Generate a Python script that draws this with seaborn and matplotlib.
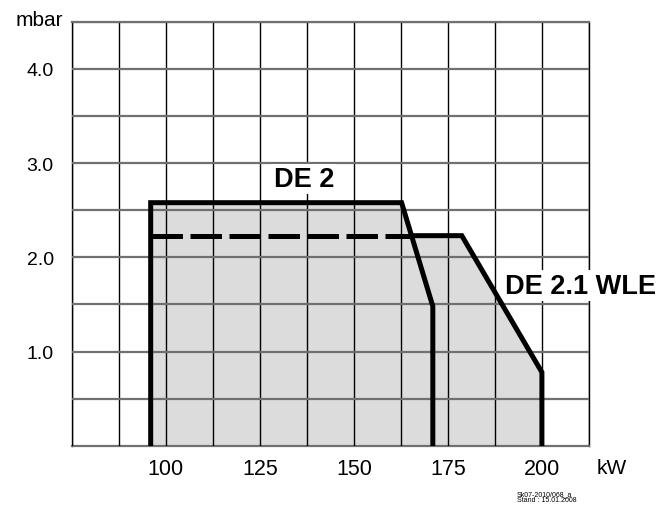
import matplotlib
matplotlib.use("Agg")
import matplotlib.pyplot as plt
import seaborn as sns
import numpy as np

# operating ranges (kW, mbar)
de2_kw = [96, 96, 162.7, 171, 171]
de2_mbar = [0, 2.58, 2.58, 1.48, 0]
wle_kw = [96, 96, 178.7, 200, 200]
wle_mbar = [0, 2.23, 2.23, 0.78, 0]

x_major = [100, 125, 150, 175, 200]
x_labels = ["100", "125", "150", "175", "200"]
x_minor = [75, 87.5, 112.5, 137.5, 162.5, 187.5, 212.5]
y_major = [1.0, 2.0, 3.0, 4.0]
y_labels = ["1.0", "2.0", "3.0", "4.0"]
y_minor = [0.5, 1.5, 2.5, 3.5, 4.5]

sns.set_style("white")
plt.rcParams["font.family"] = ["Liberation Sans", "DejaVu Sans"]
plt.rcParams["text.color"] = "black"
plt.rcParams["xtick.color"] = "black"
plt.rcParams["ytick.color"] = "black"

fig = plt.figure(figsize=(6.7, 5.06), dpi=100)
ax = fig.add_axes([0.107, 0.117, 0.772, 0.838])

fill_col = "#dcdcdc"
ax.fill(wle_kw, wle_mbar, color=fill_col, lw=0, zorder=1)
ax.fill(de2_kw, de2_mbar, color=fill_col, lw=0, zorder=1)

lw = 3.6
sns.lineplot(x=de2_kw, y=de2_mbar, sort=False, estimator=None, color="black",
             lw=lw, solid_joinstyle="miter", ax=ax, zorder=4)

# where the DE 2 slope crosses the DE 2.1 WLE top edge
cross_kw = np.interp(wle_mbar[1], [de2_mbar[3], de2_mbar[2]], [de2_kw[3], de2_kw[2]])

ax.plot([wle_kw[1], cross_kw], [wle_mbar[1], wle_mbar[2]], color="black", lw=lw,
        linestyle=(0, (6.3, 1.5)), dash_capstyle="butt", zorder=4)
sns.lineplot(x=[cross_kw] + wle_kw[2:], y=[wle_mbar[2]] + wle_mbar[2:], sort=False,
             estimator=None, color="black", lw=lw, solid_joinstyle="miter", ax=ax, zorder=4)

ax.set_xlim(75, 212.5)
ax.set_ylim(0, 4.5)
ax.set_xticks(x_major)
ax.set_xticklabels(x_labels, fontsize=15.5, color="black")
ax.set_xticks(x_minor, minor=True)
ax.set_yticks(y_major)
ax.set_yticklabels(y_labels, fontsize=14, color="black")
ax.set_yticks(y_minor, minor=True)
ax.tick_params(which="both", length=0)
ax.tick_params(axis="x", pad=9)
ax.tick_params(axis="y", pad=13)
ax.set_xlabel("")
ax.set_ylabel("")

ax.set_axisbelow(False)
ax.grid(axis="x", which="both", color="black", lw=1.0, zorder=2.5)
ax.grid(axis="y", which="both", color="#707070", lw=1.6, zorder=2.5)
for side in ["left", "right"]:
    ax.spines[side].set_color("black")
    ax.spines[side].set_linewidth(1.0)
for side in ["top", "bottom"]:
    ax.spines[side].set_color("#707070")
    ax.spines[side].set_linewidth(1.6)

box = dict(facecolor="white", edgecolor="none", pad=1.5)
ax.text(136.7, 2.83, "DE 2", fontsize=19.5, fontweight="bold", ha="center", va="center",
        color="black", bbox=box, zorder=5)
ax.text(190.2, 1.70, "DE 2.1 WLE", fontsize=19.5, fontweight="bold", ha="left", va="center",
        color="black", bbox=box, zorder=5, clip_on=False)

fig.text(612 / 670, 1 - 469 / 506, "kW", fontsize=15, ha="center", va="center", color="black")
fig.text(39 / 670, 1 - 20 / 506, "mbar", fontsize=15, ha="center", va="center", color="black")
fig.text(517 / 670, 1 - 495 / 506, "Sk07-2010/068_a", fontsize=5, ha="left", va="center",
         color="black", family=["Liberation Sans Narrow", "Liberation Sans"])
fig.text(517 / 670, 1 - 501 / 506, "Stand : 15.01.2008", fontsize=5, ha="left", va="center",
         color="black", family=["Liberation Sans Narrow", "Liberation Sans"])

fig.savefig("out.png", dpi=100)
